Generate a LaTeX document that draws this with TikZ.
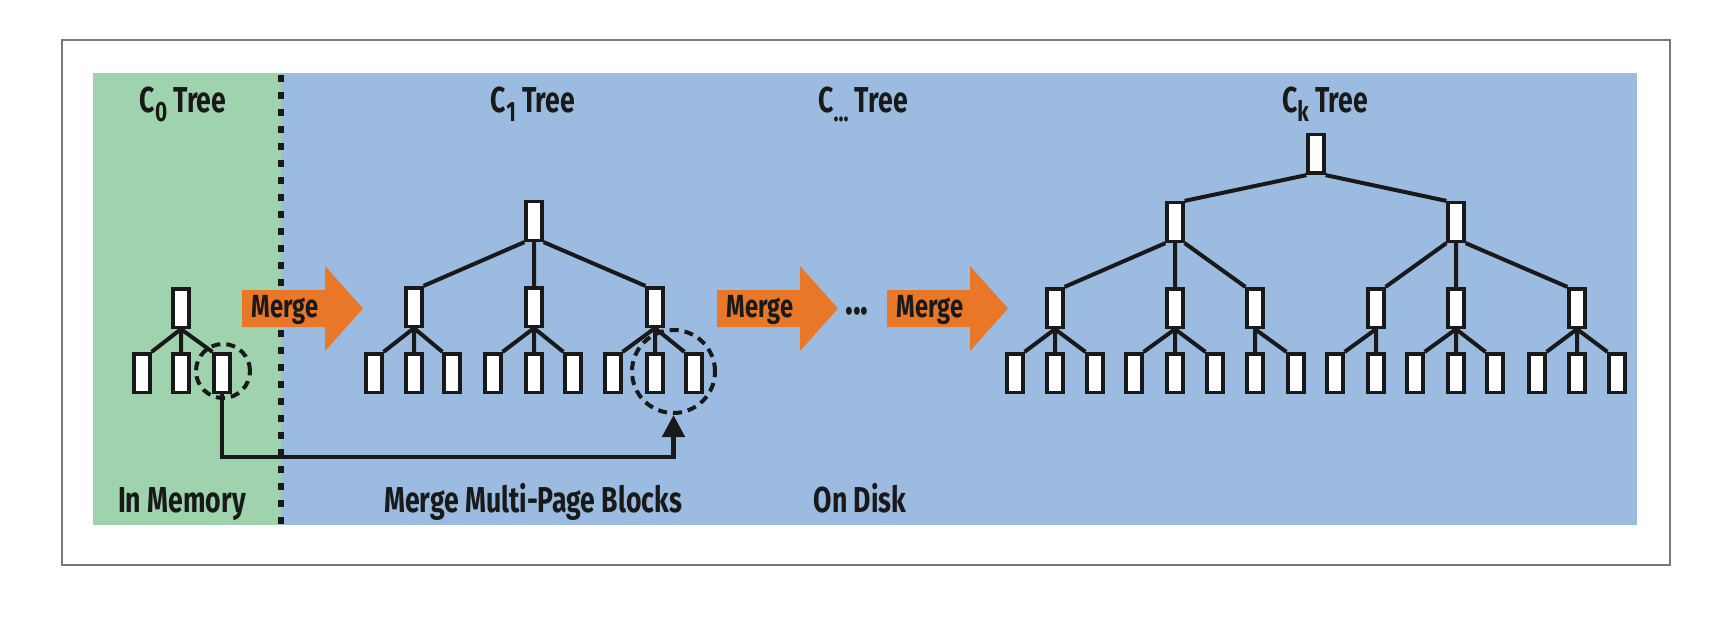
\documentclass[tikz,border=0pt]{standalone}
\usepackage{fontspec}
\usetikzlibrary{arrows.meta,calc}
\newfontfamily\labfont{Fira Sans}[FakeStretch=0.74]
\definecolor{memgreen}{RGB}{158,211,174}
\definecolor{diskblue}{RGB}{155,188,224}
\definecolor{mergeorange}{RGB}{232,119,40}
\definecolor{ink}{RGB}{25,25,25}
\definecolor{framegray}{RGB}{120,120,120}
\newcommand\lowsub[1]{\raisebox{-4.5pt}{\fontsize{14pt}{15pt}\selectfont #1}}
\begin{document}
\begin{tikzpicture}[x=0.5pt,y=-0.5pt,
  bx/.style={draw=ink, fill=white, line width=1.8pt, minimum width=7.8pt, minimum height=19.3pt, inner sep=0pt},
  edge/.style={draw=ink, line width=2pt},
  lab/.style={font=\labfont\bfseries\fontsize{18pt}{20pt}\selectfont, text=ink, inner sep=0pt, anchor=base},
  mlab/.style={lab, font=\labfont\bfseries\fontsize{16pt}{18pt}\selectfont},
  ring/.style={draw=ink, line width=2pt, dash pattern=on 4.5pt off 3pt, circle, inner sep=0pt},
  conn/.style={draw=ink, line width=2.4pt, -{Triangle[length=11pt,width=11pt]}},
  divider/.style={draw=ink, line width=2.6pt, dash pattern=on 3.5pt off 5pt},
]
\useasboundingbox (0,0) rectangle (1720,626);
\fill[white] (0,0) rectangle (1720,626);
\draw[framegray, line width=1pt] (62,40) rectangle (1670,565);
\fill[memgreen] (93,73) rectangle (281,525);
\fill[diskblue] (281,73) rectangle (1637,525);
\draw[divider] (281,75) -- (281,525);

% titles
\node[lab] (t0) at (183,113) {C\lowsub{0} Tree};
\node[lab] (t1) at (533,113) {C\lowsub{1} Tree};
\node[lab] (tm) at (863,113) {C\lowsub{...} Tree};
\node[lab] (tk) at (1325,113) {C\lowsub{k} Tree};
\node[lab] (b0) at (182,512) {In Memory};
\node[lab] (b1) at (533,512) {Merge Multi-Page Blocks};
\node[lab] (b2) at (860,512) {On Disk};

% merge arrows
\foreach \X/\nm in {242/1,717/2,887/3}{
  \fill[mergeorange] (\X,290) -- (\X+83,290) -- (\X+83,266) -- (\X+121,308.5) -- (\X+83,351) -- (\X+83,327) -- (\X,327) -- cycle;
  \node[mlab] (merge\nm) at (\X+43,317) {Merge};
}
\node[lab, font=\labfont\bfseries\fontsize{22pt}{24pt}\selectfont] (dots) at (857,314) {...};

% C0 tree
\node[bx] (r0) at (181,308) {};
\foreach \x [count=\i] in {142,181,222} \node[bx] (l0\i) at (\x,373) {};
\draw[edge] (r0.south) -- (l01.north east) (r0.south) -- (l02.north) (r0.south) -- (l03.north west);

% C1 tree
\node[bx] (r1) at (534,221) {};
\foreach \x [count=\i] in {414,534,655} \node[bx] (m1\i) at (\x,307) {};
\foreach \x [count=\i] in {374,414,452,493,534,573,613,655,694} \node[bx] (l1\i) at (\x,373) {};
\draw[edge] (r1.south west) -- (m11.north east) (r1.south) -- (m12.north) (r1.south east) -- (m13.north west);
\foreach \p/\a/\b/\c in {1/1/2/3,2/4/5/6,3/7/8/9}{
  \draw[edge] (m1\p.south) -- (l1\a.north east) (m1\p.south) -- (l1\b.north) (m1\p.south) -- (l1\c.north west);
}

% Ck tree
\node[bx] (rk) at (1316,154) {};
\node[bx] (ka) at (1175,222) {};
\node[bx] (kb) at (1456,222) {};
\foreach \x [count=\i] in {1055,1175,1255,1376,1456,1577} \node[bx] (k\i) at (\x,308) {};
\foreach \x [count=\i] in {1015,1055,1095,1134,1175,1215,1255,1296,1335,1376,1415,1456,1495,1537,1577,1617} \node[bx] (kl\i) at (\x,373) {};
\draw[edge] (rk.south west) -- (ka.north east) (rk.south east) -- (kb.north west);
\draw[edge] (ka.south west) -- (k1.north east) (ka.south) -- (k2.north) (ka.south east) -- (k3.north west);
\draw[edge] (kb.south west) -- (k4.north east) (kb.south) -- (k5.north) (kb.south east) -- (k6.north west);
\foreach \p/\a/\b/\c in {1/1/2/3,2/4/5/6,5/11/12/13,6/14/15/16}{
  \draw[edge] (k\p.south) -- (kl\a.north east) (k\p.south) -- (kl\b.north) (k\p.south) -- (kl\c.north west);
}
\draw[edge] (k3.south) -- (kl7.north) (k3.south) -- (kl8.north west);
\draw[edge] (k4.south) -- (kl9.north east) (k4.south) -- (kl10.north);

% dashed rings and connector
\node[ring, minimum size=27pt] (ring0) at (223,371) {};
\node[ring, minimum size=41.5pt] (ring1) at (673.5,371.5) {};
\coordinate (bend) at (222,457);
\draw[conn] (l03.south) -- (bend) -| (ring1.south);
\end{tikzpicture}
\end{document}
